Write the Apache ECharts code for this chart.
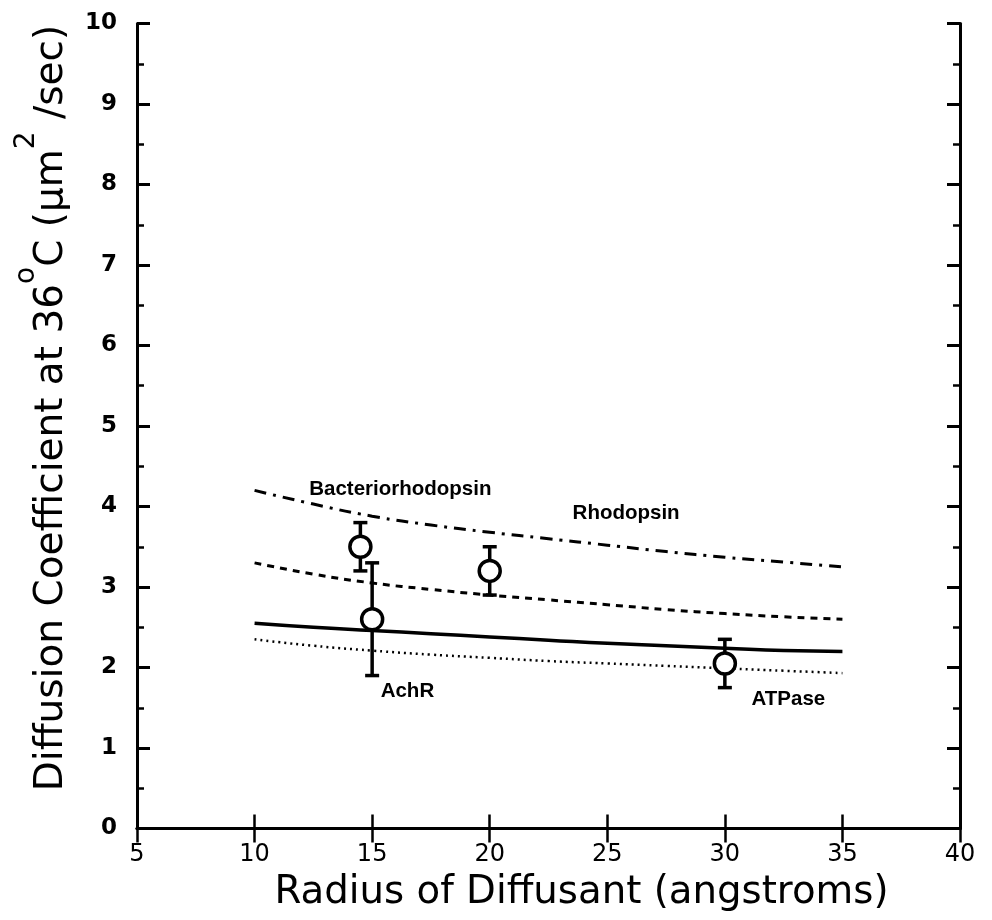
<!DOCTYPE html>
<html><head><meta charset="utf-8">
<script src="https://cdn.jsdelivr.net/npm/echarts@6/dist/echarts.min.js"></script>
<style>html,body{margin:0;padding:0;background:#fff}#c{width:992px;height:920px}</style>
</head><body><div id="c"></div>
<script>
const curveX = [10, 12.5, 15, 17.5, 20, 22.5, 25, 27.5, 30, 32.5, 35];
const bacterioCurve = [4.2, 4.03, 3.88, 3.77, 3.68, 3.6, 3.52, 3.44, 3.37, 3.31, 3.25];
const rhodopsinCurve = [3.3, 3.16, 3.05, 2.97, 2.9, 2.84, 2.78, 2.72, 2.67, 2.63, 2.6];
const solidCurve = [2.55, 2.5, 2.46, 2.42, 2.38, 2.34, 2.3, 2.27, 2.24, 2.21, 2.2];
const dottedCurve = [2.35, 2.27, 2.21, 2.16, 2.12, 2.08, 2.05, 2.02, 1.99, 1.96, 1.93];
const pointX = [14.5, 15, 20, 30];
const pointY = [3.5, 2.6, 3.2, 2.05];
const errLow = [3.2, 1.9, 2.9, 1.75];
const errHigh = [3.8, 3.3, 3.5, 2.35];
const labelText = ['Bacteriorhodopsin', 'Rhodopsin', 'AchR', 'ATPase'];
const labelX = [16.2, 25.8, 16.5, 32.7];
const labelY = [4.21, 3.91, 1.70, 1.60];
const xTicks = [5, 10, 15, 20, 25, 30, 35, 40];
const yTicks = [0, 1, 2, 3, 4, 5, 6, 7, 8, 9, 10];

const chart = echarts.init(document.getElementById('c'));
const pair = (xs, ys) => xs.map((x, i) => [x, ys[i]]);
const font = 'DejaVu Sans';
const axisCommon = {
  type: 'value', splitLine: {show: false},
  axisLine: {show: true, lineStyle: {color: '#000', width: 3}},
};
const xTick = {show: true, inside: true, length: 14, lineStyle: {color: '#000', width: 2.5}};
const yTick = {show: true, inside: true, length: 13, lineStyle: {color: '#000', width: 3}};
const yMinor = {show: true, splitNumber: 2, length: 7, lineStyle: {color: '#000', width: 2.5}};
chart.setOption({
  animation: false,
  grid: {left: 137, right: 32, top: 23.5, bottom: 91.5},
  xAxis: [
    Object.assign({}, axisCommon, {
      min: 5, max: 40, interval: 5, position: 'bottom',
      axisTick: xTick,
      axisLabel: {color: '#000', fontSize: 24, fontFamily: font, margin: 14,
        formatter: v => xTicks.includes(v) ? String(v) : ''},
      name: 'Radius of Diffusant (angstroms)', nameLocation: 'middle', nameGap: 45,
      nameTextStyle: {color: '#000', fontSize: 38.7, fontFamily: font, verticalAlign: 'top',
        padding: [0, 0, 0, 66]}
    }),
    Object.assign({}, axisCommon, {
      min: 5, max: 40, interval: 5, position: 'top',
      axisTick: xTick,
      axisLabel: {show: false}
    })
  ],
  yAxis: [
    Object.assign({}, axisCommon, {
      min: 0, max: 10, interval: 1, position: 'left',
      axisTick: yTick, minorTick: yMinor,
      axisLabel: {color: '#000', fontSize: 23, fontWeight: 'bold', fontFamily: font, margin: 20,
        formatter: v => yTicks.includes(v) ? String(v) : ''},
      name: '{a|Diffusion Coefficient at 36}{s|o}{a|C (μm}{s|2}{a| /sec)}',
      nameLocation: 'middle', nameGap: 66,
      nameTextStyle: {color: '#000', fontFamily: font, padding: [0, 0, 0, 36],
        rich: {a: {fontSize: 39, fontFamily: font, color: '#000', lineHeight: 58, verticalAlign: 'bottom'},
               s: {fontSize: 28, fontFamily: font, color: '#000', lineHeight: 58, verticalAlign: 'top'}}}
    }),
    Object.assign({}, axisCommon, {
      min: 0, max: 10, interval: 1, position: 'right',
      axisTick: yTick, minorTick: yMinor,
      axisLabel: {show: false}
    })
  ],
  series: [
    {type: 'line', data: pair(curveX, bacterioCurve), smooth: true, symbol: 'none',
      lineStyle: {color: '#000', width: 3, type: [12, 7, 3, 7]}},
    {type: 'line', data: pair(curveX, rhodopsinCurve), smooth: true, symbol: 'none',
      lineStyle: {color: '#000', width: 3, type: [7, 6]}},
    {type: 'line', data: pair(curveX, solidCurve), smooth: true, symbol: 'none',
      lineStyle: {color: '#000', width: 3.5}},
    {type: 'line', data: pair(curveX, dottedCurve), smooth: true, symbol: 'none',
      lineStyle: {color: '#000', width: 2.5, type: [2, 4]}},
    {type: 'custom', data: pointX.map((x, i) => [x, errLow[i], errHigh[i]]), z: 5,
      renderItem: (params, api) => {
        const lo = api.coord([api.value(0), api.value(1)]);
        const hi = api.coord([api.value(0), api.value(2)]);
        const w = 7;
        const st = {stroke: '#000', lineWidth: 3.5};
        return {type: 'group', children: [
          {type: 'line', shape: {x1: lo[0], y1: lo[1], x2: hi[0], y2: hi[1]}, style: st},
          {type: 'line', shape: {x1: lo[0] - w, y1: lo[1], x2: lo[0] + w, y2: lo[1]}, style: st},
          {type: 'line', shape: {x1: hi[0] - w, y1: hi[1], x2: hi[0] + w, y2: hi[1]}, style: st}
        ]};
      }},
    {type: 'scatter', data: pair(pointX, pointY), symbol: 'circle', symbolSize: 21, z: 10,
      itemStyle: {color: '#fff', borderColor: '#000', borderWidth: 3.5, opacity: 1}},
    {type: 'scatter', data: labelX.map((x, i) => [x, labelY[i], labelText[i]]), symbolSize: 1, z: 11,
      itemStyle: {opacity: 0},
      label: {show: true, position: 'inside', formatter: p => p.data[2], color: '#000', opacity: 1,
        fontSize: 20.5, fontWeight: 'bold', fontFamily: 'Liberation Sans'}}
  ]
});
</script></body></html>
